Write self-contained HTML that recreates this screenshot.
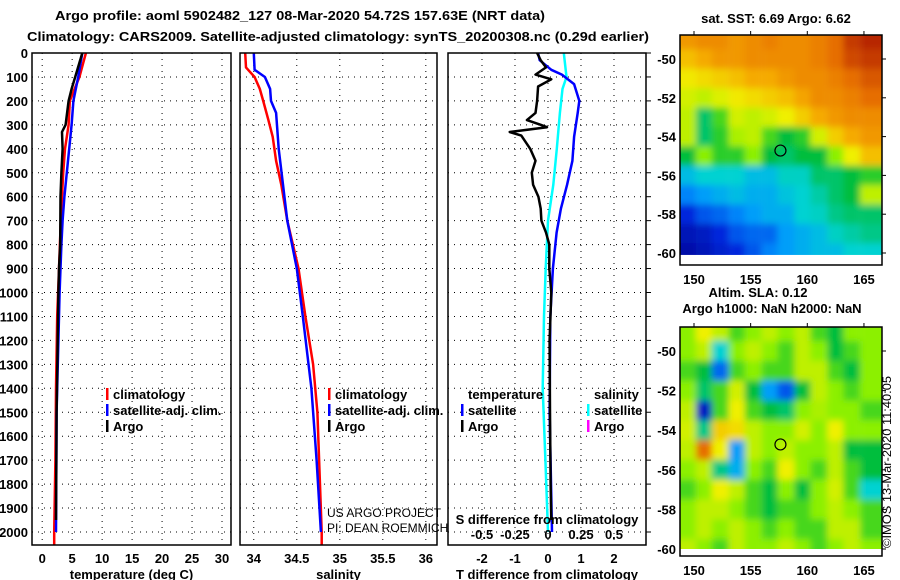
<!DOCTYPE html>
<html><head><meta charset="utf-8"><style>
body{margin:0;background:#fff;}
svg{display:block;font-family:"Liberation Sans",sans-serif;}
.b{font-weight:bold;font-size:13px;}
</style></head><body>
<svg id="fig" width="900" height="580" viewBox="0 0 900 580" xmlns="http://www.w3.org/2000/svg">
<defs>
<filter id="blur" filterUnits="userSpaceOnUse" x="660" y="0" width="240" height="580"><feGaussianBlur stdDeviation="3.5"/></filter>
<clipPath id="c1"><rect x="680" y="35" width="202" height="223"/></clipPath>
<clipPath id="c2"><rect x="680" y="327" width="202" height="222"/></clipPath>
</defs>
<text x="300" y="20" text-anchor="middle" class="b" font-size="14" textLength="490" lengthAdjust="spacingAndGlyphs">Argo profile: aoml 5902482_127 08-Mar-2020 54.72S 157.63E (NRT data)</text>
<text x="338" y="41" text-anchor="middle" class="b" font-size="14" textLength="622" lengthAdjust="spacingAndGlyphs">Climatology: CARS2009. Satellite-adjusted climatology: synTS_20200308.nc (0.29d earlier)</text>
<g id="panels"></g>
<g id="maps"></g>
<text transform="translate(891,548) rotate(-90)" font-size="12" textLength="172" lengthAdjust="spacingAndGlyphs">©IMOS 13-Mar-2020 11:40:05</text>
</svg>
<script>
// ---- profile data ----
const depthTicks=[0,100,200,300,400,500,600,700,800,900,1000,1100,1200,1300,1400,1500,1600,1700,1800,1900,2000];
const tempTicks=[0,5,10,15,20,25,30];
const salTicks=[34,34.5,35,35.5,36];
const tdiffTicks=[-2,-1,0,1,2];
const sdiffTicks=[-0.5,-0.25,0,0.25,0.5];
const climTDepth=[0,100,200,300,400,500,600,700,900,1100,1400,1700,2000,2055];
const climT=[7.3,6.2,4.6,4.4,3.8,3.5,3.3,3.1,2.8,2.5,2.3,2.2,2.0,2.0];
const satTDepth=[0,100,200,300,400,500,600,700,800,1000,1500,2000];
const satT=[6.7,6.0,5.2,4.9,4.5,4.1,3.7,3.4,3.2,2.9,2.4,2.3];
const argoTDepth=[0,100,150,200,300,330,400,500,600,800,900,1000,1500,1950];
const argoT=[6.7,5.5,4.9,4.4,3.9,3.3,3.4,3.2,3.05,3.0,2.8,2.7,2.4,2.3];
const climSDepth=[0,60,100,150,200,280,350,450,550,700,900,1100,1300,1500,2000,2055];
const climS=[33.9,33.91,34.01,34.07,34.11,34.17,34.22,34.26,34.32,34.39,34.52,34.6,34.69,34.74,34.79,34.79];
const satSDepth=[0,70,100,150,200,250,400,550,700,900,1100,1400,1700,2000];
const satS=[34.0,34.01,34.13,34.19,34.2,34.26,34.29,34.34,34.39,34.5,34.57,34.67,34.73,34.78];
const argoTdDepth=[0,30,60,90,110,140,200,250,280,300,310,330,345,400,450,500,550,600,650,700,750,800,900,1000,1200,1500,1800,1950];
const argoTd=[-0.33,-0.22,-0.06,-0.38,0.1,-0.3,-0.33,-0.38,-0.64,-0.22,-0.03,-1.16,-0.81,-0.54,-0.38,-0.49,-0.45,-0.29,-0.22,-0.2,-0.06,0.04,0.04,0.1,0.05,0.06,0.08,0.1];
const satTdDepth=[0,30,70,90,130,200,250,350,450,550,650,750,900,1100,1500,2000];
const satTd=[-0.3,-0.25,0.1,0.42,0.79,0.95,0.9,0.79,0.74,0.58,0.39,0.26,0.15,0.07,0.05,0.12];
const satSdDepth=[0,100,150,250,400,550,700,900,1100,1400,1700,2000];
const satSd=[0.12,0.14,0.11,0.09,0.067,0.04,0,-0.017,-0.03,-0.04,-0.02,0];

const NS='http://www.w3.org/2000/svg';
function mk(tag,attrs,parent,txt){const e=document.createElementNS(NS,tag);for(const k in attrs)e.setAttribute(k,attrs[k]);if(txt!==undefined)e.textContent=txt;parent.appendChild(e);return e;}
const yD=d=>53+d*0.2395;
const P=document.getElementById('panels');
const panels=[
 {x0:32,x1:231,v0:-1.7,v1:31.5,ticks:tempTicks,title:'temperature (deg C)',name:'temperature-panel'},
 {x0:240,x1:437,v0:33.84,v1:36.13,ticks:salTicks,title:'salinity',name:'salinity-panel'},
 {x0:448,x1:646,v0:-3.03,v1:2.97,ticks:tdiffTicks,title:'T difference from climatology',name:'difference-panel'}];
const yTop=53,yBot=545;
panels.forEach((p,i)=>{
 const g=mk('g',{},P);
 
 
 p.sx=v=>p.x0+(v-p.v0)/(p.v1-p.v0)*(p.x1-p.x0);
 depthTicks.forEach(d=>{const l=mk('line',{x1:p.x0,x2:p.x1,y1:yD(d),y2:yD(d),stroke:'#000','stroke-width':1,'stroke-dasharray':'1,5'},g);
  });
 p.ticks.forEach(t=>{const x=p.sx(t);
  const l=mk('line',{x1:x,x2:x,y1:yTop,y2:yBot,stroke:'#000','stroke-width':1,'stroke-dasharray':'1,5'},g);
  
  const tx=mk('text',{x:x,y:563,'text-anchor':'middle',class:'b'},g,String(t));
  });
 const at=mk('text',{x:(p.x0+p.x1)/2,y:579,'text-anchor':'middle',class:'b'},g,p.title);
 
 p.g=g;
});
depthTicks.forEach(d=>{const t=mk('text',{x:28,y:yD(d)+5,'text-anchor':'end',class:'b'},P,String(d));
 
 const l=mk('line',{x1:646,x2:651,y1:yD(d),y2:yD(d),stroke:'#000'},P);
 });
function line(p,ds,vs,col,name,scale){
 let pts=ds.map((d,i)=>p.sx(vs[i]*(scale||1)).toFixed(1)+','+yD(d).toFixed(1)).join(' ');
 const e=mk('polyline',{points:pts,fill:'none',stroke:col,'stroke-width':2.5,'stroke-linejoin':'round'},p.g);
 }
line(panels[0],climTDepth,climT,'#f00','climatology-temperature-line');
line(panels[0],satTDepth,satT,'#00f','satellite-temperature-line');
line(panels[0],argoTDepth,argoT,'#000','argo-temperature-line');
line(panels[1],climSDepth,climS,'#f00','climatology-salinity-line');
line(panels[1],satSDepth,satS,'#00f','satellite-salinity-line');
line(panels[2],satSdDepth,satSd,'#0ff','satellite-salinity-diff-line',4);
line(panels[2],satTdDepth,satTd,'#00f','satellite-temperature-diff-line');
line(panels[2],argoTdDepth,argoTd,'#000','argo-temperature-diff-line');
panels.forEach(p=>{const r=mk('rect',{x:p.x0,y:yTop,width:p.x1-p.x0,height:yBot-yTop,fill:'none',stroke:'#000','stroke-width':1.5},p.g);
 });
sdiffTicks.forEach(s=>{const t=mk('text',{x:panels[2].sx(s*4),y:539,'text-anchor':'middle',class:'b'},P,String(s));
 });
{const t=mk('text',{x:547,y:524,'text-anchor':'middle',class:'b'},P,'S difference from climatology');
 }
function leg(x,y,col,label){const g=mk('g',{},P);
 
 if(col)mk('rect',{x:x,y:y-11,width:2.5,height:12,fill:col},g);
 mk('text',{x:x+7,y:y,class:'b'},g,label);}
leg(106,399,'#f00','climatology');leg(106,415,'#00f','satellite-adj. clim.');leg(106,431,'#000','Argo');
leg(328,399,'#f00','climatology');leg(328,415,'#00f','satellite-adj. clim.');leg(328,431,'#000','Argo');
leg(461,399,null,'temperature');leg(587,399,null,'salinity');
leg(461,415,'#00f','satellite');leg(461,431,'#000','Argo');
leg(587,415,'#0ff','satellite');leg(587,431,'#f0f','Argo');
{const t=mk('text',{x:327,y:517,'font-size':12},P,'US ARGO PROJECT');
 const t2=mk('text',{x:327,y:532,'font-size':12},P,'PI: DEAN ROEMMICH');}

// ---- map data ----
const lonTicks=[150,155,160,165];
const latTicks=[-50,-52,-54,-56,-58,-60];
const mapLats=[-49,-50,-51,-52,-53,-54,-55,-56,-57,-58,-59,-60];
const mapLons=[149.4,150.9,152.3,153.8,155.2,156.7,158.1,159.6,161.0,162.5,163.9,165.4];
const sstGrid=[
[0.78,0.8,0.8,0.78,0.8,0.82,0.8,0.8,0.82,0.85,0.92,0.95],
[0.72,0.75,0.78,0.78,0.8,0.8,0.8,0.8,0.82,0.85,0.9,0.92],
[0.66,0.68,0.7,0.72,0.75,0.75,0.78,0.8,0.8,0.82,0.85,0.88],
[0.62,0.6,0.63,0.66,0.68,0.7,0.72,0.76,0.8,0.8,0.82,0.85],
[0.6,0.42,0.5,0.62,0.6,0.62,0.65,0.7,0.75,0.78,0.8,0.8],
[0.6,0.42,0.48,0.58,0.6,0.5,0.45,0.48,0.62,0.7,0.75,0.78],
[0.45,0.55,0.48,0.48,0.55,0.45,0.42,0.45,0.45,0.55,0.65,0.72],
[0.32,0.35,0.35,0.35,0.32,0.32,0.36,0.36,0.42,0.42,0.45,0.48],
[0.25,0.28,0.3,0.32,0.3,0.3,0.33,0.35,0.38,0.42,0.45,0.6],
[0.15,0.2,0.22,0.25,0.28,0.3,0.3,0.35,0.36,0.4,0.42,0.42],
[0.08,0.1,0.15,0.2,0.22,0.22,0.28,0.3,0.32,0.36,0.38,0.4],
[0.05,0.08,0.12,0.15,0.2,0.25,0.28,0.3,0.32,0.32,0.35,0.35]];
const slaGrid=[
[0.55,0.65,0.6,0.5,0.55,0.6,0.55,0.6,0.5,0.45,0.55,0.55],
[0.55,0.6,0.35,0.55,0.6,0.55,0.5,0.6,0.55,0.45,0.5,0.55],
[0.5,0.45,0.22,0.5,0.55,0.5,0.5,0.6,0.6,0.5,0.45,0.55],
[0.55,0.42,0.5,0.62,0.45,0.28,0.2,0.45,0.6,0.55,0.5,0.55],
[0.6,0.1,0.5,0.65,0.5,0.45,0.42,0.55,0.58,0.55,0.55,0.5],
[0.62,0.4,0.7,0.68,0.6,0.55,0.55,0.62,0.55,0.65,0.55,0.55],
[0.6,0.85,0.65,0.28,0.6,0.55,0.6,0.55,0.55,0.6,0.45,0.45],
[0.55,0.6,0.4,0.3,0.55,0.5,0.65,0.55,0.5,0.6,0.5,0.45],
[0.5,0.55,0.65,0.6,0.5,0.45,0.55,0.45,0.55,0.62,0.5,0.35],
[0.55,0.6,0.6,0.55,0.5,0.45,0.5,0.5,0.55,0.6,0.55,0.5],
[0.55,0.6,0.55,0.6,0.55,0.5,0.55,0.5,0.5,0.6,0.6,0.5],
[0.6,0.55,0.5,0.6,0.55,0.55,0.6,0.55,0.5,0.55,0.6,0.55]];
const argoPos=[157.63,-54.72];

function jet(v){const stops=[[0,[0,0,140]],[0.15,[0,40,220]],[0.27,[0,150,255]],[0.35,[0,210,210]],[0.45,[0,190,60]],[0.55,[140,240,0]],[0.65,[240,240,0]],[0.75,[245,170,0]],[0.85,[230,110,0]],[1,[160,0,0]]];
 for(let i=1;i<stops.length;i++){if(v<=stops[i][0]){const a=stops[i-1],b=stops[i],t=(v-a[0])/(b[0]-a[0]);
  return 'rgb('+a[1].map((c,k)=>Math.round(c+(b[1][k]-c)*t)).join(',')+')';}}return 'rgb(160,0,0)';}
const M=document.getElementById('maps');
function map(grid,y0,y1,latAt50,latAt60,clip,name,titles){
 const g=mk('g',{},M);
 
 const sx=lon=>694+(lon-150)*11.33;
 const sy=lat=>latAt50+(-50-lat)*(latAt60-latAt50)/10;
 const cg=mk('g',{'clip-path':'url(#'+clip+')'},g);
 const hg=mk('g',{filter:'url(#blur)'},cg);
 const dlon=1.46,dlat=1;
 grid.forEach((row,r)=>row.forEach((v,c)=>{
  const x=sx(mapLons[c]-dlon/2)-(c===0?10:0),w=sx(mapLons[c]+dlon/2)-x+(c===row.length-1?12:0)+0.5;
  const y=sy(mapLats[r]+dlat/2)-(r===0?10:0),h=sy(mapLats[r]-dlat/2)-y+0.5+(r===grid.length-1?8:0);
  const e=mk('rect',{x:x,y:y,width:w,height:h,fill:jet(v)},hg);
  }));
 mk('rect',{x:680,y:sy(-60.1),width:202,height:y1-sy(-60.1),fill:'#fff'},g);
 const c=mk('circle',{cx:sx(argoPos[0]),cy:sy(argoPos[1]),r:5.5,fill:'none',stroke:'#000','stroke-width':1.2},g);
 
 const fr=mk('rect',{x:680,y:y0,width:202,height:y1-y0,fill:'none',stroke:'#000','stroke-width':1.5},g);
 
 lonTicks.forEach(l=>{const x=sx(l);mk('line',{x1:x,x2:x,y1:y0-4,y2:y0,stroke:'#000'},g);
  const t=mk('text',{x:x,y:y1+19,'text-anchor':'middle',class:'b'},g,String(l));
  });
 latTicks.forEach(l=>{const y=sy(l);mk('line',{x1:882,x2:886,y1:y,y2:y,stroke:'#000'},g);
  const t=mk('text',{x:676,y:y+5,'text-anchor':'end',class:'b'},g,String(l));
  });
 titles.forEach(tt=>{const t=mk('text',{x:tt[0],y:tt[1],'text-anchor':'middle',class:'b'},g,tt[2]);
  });
}
map(sstGrid,35,265,59,253,'c1','sst-map',[[776,23,'sat. SST: 6.69 Argo: 6.62']]);
map(slaGrid,327,556,351,549,'c2','sla-map',[[758,297,'Altim. SLA: 0.12'],[772,313,'Argo h1000: NaN h2000: NaN']]);
</script>
</body></html>
